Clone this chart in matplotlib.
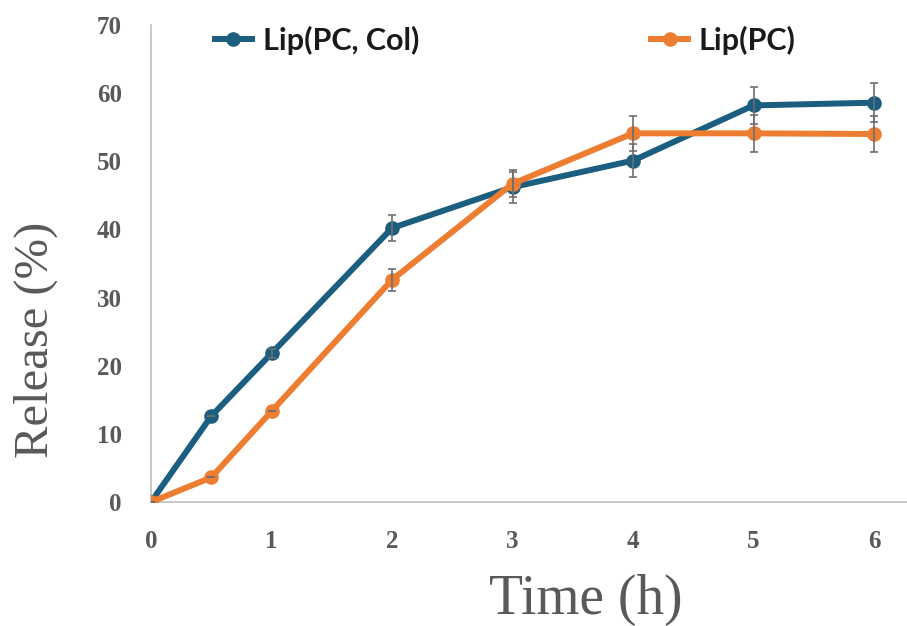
#---Release profile of liposome formulations---------------------------------------------
import matplotlib
matplotlib.use("Agg")
import matplotlib.pyplot as plt
import numpy as np

#---Data-------------------------------------------------------------------------------
time_h = [0, 0.5, 1, 2, 3, 4, 5, 6]
rel_pc_col = [0, 12.6, 21.8, 40.2, 46.2, 50.1, 58.2, 58.6]
err_pc_col = [0, 0, 0.7, 1.9, 2.3, 2.4, 2.7, 2.9]
rel_pc = [0, 3.6, 13.3, 32.6, 46.7, 54.1, 54.1, 54.0]
err_pc = [0, 0, 0, 1.6, 2.0, 2.6, 2.7, 2.7]
names = ["Lip(PC, Col)", "Lip(PC)"]
y_ticks = [0, 10, 20, 30, 40, 50, 60, 70]
x_ticks = [0, 1, 2, 3, 4, 5, 6]

#---Styles-----------------------------------------------------------------------------
blue = '#1b5e80'
orange = '#ed7d31'
gray_txt = '#595959'
gray_ax = '#bfbfbf'

fg = plt.figure(figsize=(9.07, 6.26), dpi=100)
ax = fg.add_axes([151/907, 1-502/626, 1-151/907, (502-25)/626])

l1, = ax.plot(time_h, rel_pc_col, '-o', color=blue, lw=4.3, ms=9.5, zorder=3, label=names[0])
l2, = ax.plot(time_h, rel_pc, '-o', color=orange, lw=4.3, ms=9.5, zorder=4, label=names[1])
ax.errorbar(time_h, rel_pc_col, yerr=err_pc_col, fmt='none', ecolor='#6e6e6e',
            elinewidth=1.2, capsize=3, capthick=1.2, zorder=5)
ax.errorbar(time_h, rel_pc, yerr=err_pc, fmt='none', ecolor='#6e6e6e',
            elinewidth=1.2, capsize=3, capthick=1.2, zorder=5)

ax.set_xlim(0, 756/120.5)
ax.set_ylim(0, 70)
ax.set_xticks(x_ticks)
ax.set_yticks(y_ticks)
ax.set_xticklabels([str(v) for v in x_ticks])
ax.set_yticklabels([str(v) for v in y_ticks])
for lab in ax.get_xticklabels() + ax.get_yticklabels():
    lab.set_fontfamily('Liberation Serif')
    lab.set_fontweight('bold')
    lab.set_fontsize(18)
    lab.set_color(gray_txt)
ax.tick_params(axis='both', length=0)
ax.tick_params(axis='x', pad=20)
ax.tick_params(axis='y', pad=21)

for s in ['top', 'right']:
    ax.spines[s].set_visible(False)
for s in ['left', 'bottom']:
    ax.spines[s].set_color(gray_ax)
    ax.spines[s].set_linewidth(1.2)
ax.spines['left'].set_zorder(1)

ax.set_xlabel('Time (h)', fontfamily='Liberation Serif', fontsize=40, color=gray_txt)
ax.set_ylabel('Release (%)', fontfamily='Liberation Serif', fontsize=35, color=gray_txt)
ax.xaxis.set_label_coords(586/756 - 151/756, (502-574)/477)
ax.yaxis.set_label_coords((58-151)/756, (502-340)/477)

lg = fg.legend(handles=[l1, l2], loc='center left', bbox_to_anchor=(215/907, 1-40/626),
               ncol=2, frameon=False, handlelength=1.2, handletextpad=0.36,
               columnspacing=7.6, borderpad=0, borderaxespad=0,
               prop={'family': 'Lato', 'weight': 'bold', 'size': 22})
for t in lg.get_texts():
    t.set_color('#1a1a1a')

plt.savefig('out.png', dpi=100)
